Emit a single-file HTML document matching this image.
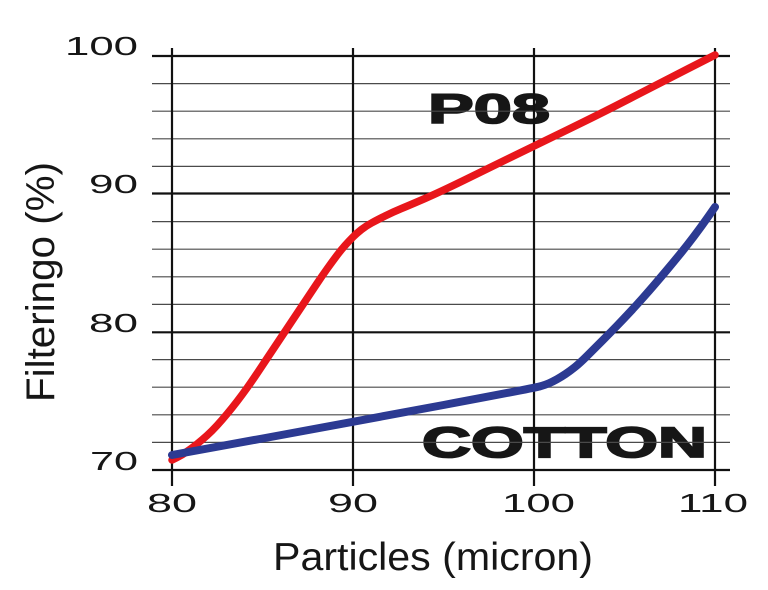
<!DOCTYPE html>
<html>
<head>
<meta charset="utf-8">
<style>
  html, body { margin:0; padding:0; background:#ffffff; }
  svg { display:block; }
  text { font-family: "Liberation Sans", "DejaVu Sans", sans-serif; fill:#161616; }
</style>
</head>
<body>
<svg width="768" height="590" viewBox="0 0 768 590" xmlns="http://www.w3.org/2000/svg">
  <rect width="768" height="590" fill="#ffffff"/>

  <!-- Series labels (under grid) -->
  <text x="428" y="123" font-size="42" font-weight="bold" textLength="122" lengthAdjust="spacingAndGlyphs" stroke="#161616" stroke-width="1.6">P08</text>
  <text x="422" y="457" font-size="43" font-weight="bold" textLength="285" lengthAdjust="spacingAndGlyphs" stroke="#161616" stroke-width="1.8">COTTON</text>

  <!-- Minor horizontal grid -->
  <g stroke="#4a4a4a" stroke-width="1.2">
    <line x1="152" y1="83.6" x2="730" y2="83.6"/>
    <line x1="152" y1="111.2" x2="730" y2="111.2"/>
    <line x1="152" y1="138.8" x2="730" y2="138.8"/>
    <line x1="152" y1="166.4" x2="730" y2="166.4"/>
    <line x1="152" y1="221.6" x2="730" y2="221.6"/>
    <line x1="152" y1="249.2" x2="730" y2="249.2"/>
    <line x1="152" y1="276.8" x2="730" y2="276.8"/>
    <line x1="152" y1="304.4" x2="730" y2="304.4"/>
    <line x1="152" y1="359.6" x2="730" y2="359.6"/>
    <line x1="152" y1="387.2" x2="730" y2="387.2"/>
    <line x1="152" y1="414.8" x2="730" y2="414.8"/>
    <line x1="152" y1="442.4" x2="730" y2="442.4"/>
  </g>
  <!-- Major horizontal grid -->
  <g stroke="#111" stroke-width="2.2">
    <line x1="152" y1="56" x2="730" y2="56"/>
    <line x1="152" y1="193.5" x2="730" y2="193.5"/>
    <line x1="152" y1="332.3" x2="730" y2="332.3"/>
    <line x1="152" y1="470" x2="730" y2="470"/>
  </g>
  <!-- Vertical grid -->
  <g stroke="#111" stroke-width="2.2">
    <line x1="172" y1="48" x2="172" y2="486"/>
    <line x1="353" y1="48" x2="353" y2="486"/>
    <line x1="534" y1="48" x2="534" y2="486"/>
    <line x1="715" y1="48" x2="715" y2="486"/>
  </g>

  <!-- Red P08 curve -->
  <path fill="none" stroke="#e8161b" stroke-width="7.5" stroke-linecap="round" stroke-linejoin="round"
    d="M172,460 L177,457.5 Q182,455 187,451.5 Q192,448 197,444 Q202,440 207,435.5 Q212,431 217,425.5 Q222,420 227,414 Q232,408 237,401.5 Q242,395 247,388 Q252,381 257,373.5 Q262,366 267,358.5 Q272,351 277,343.5 Q282,336 287,328.5 Q292,321 297,313.5 Q302,306 307,298.5 Q312,291 317,283.5 Q322,276 327,269 Q332,262 336.5,256 Q341,250 345,245.5 Q349,241 353,237 Q357,233 361.5,229.5 Q366,226 371.5,223 Q377,220 385,216 Q393,212 401.5,208.5 Q410,205 425,198.5 Q440,192 463.5,180.5 Q487,169 510.5,157.5 Q534,146 567,130 Q600,114 630,98.5 Q660,83 687.5,69 L715,55"/>

  <!-- Blue COTTON curve -->
  <path fill="none" stroke="#2c3a92" stroke-width="8" stroke-linecap="round" stroke-linejoin="round"
    d="M172,455 L262.5,438.5 Q353,422 443.5,405 Q534,388 539.5,386.5 Q545,385 549,383.25 Q553,381.5 557,379.25 Q561,377 565.5,374 Q570,371 575,367 Q580,363 587.5,355.5 Q595,348 602.5,340.5 Q610,333 617,325.75 Q624,318.5 630.5,311.5 Q637,304.5 643,297.75 Q649,291 655,284 Q661,277 667.5,269.25 Q674,261.5 680.5,253.5 Q687,245.5 694,236.25 Q701,227 708,217 L715,207"/>

  <!-- Y tick labels -->
  <g font-size="26">
    <text x="65" y="55" textLength="73" lengthAdjust="spacingAndGlyphs">100</text>
    <text x="89" y="193" textLength="49" lengthAdjust="spacingAndGlyphs">90</text>
    <text x="89" y="332" textLength="49" lengthAdjust="spacingAndGlyphs">80</text>
    <text x="90" y="470" textLength="48" lengthAdjust="spacingAndGlyphs">70</text>
  </g>
  <!-- X tick labels -->
  <g font-size="26">
    <text x="147" y="512" textLength="50" lengthAdjust="spacingAndGlyphs">80</text>
    <text x="328" y="512" textLength="50" lengthAdjust="spacingAndGlyphs">90</text>
    <text x="502" y="512" textLength="73" lengthAdjust="spacingAndGlyphs">100</text>
    <text x="678" y="512" textLength="70" lengthAdjust="spacingAndGlyphs">110</text>
  </g>

  <!-- Axis titles -->
  <text x="273" y="570" font-size="39" textLength="320" lengthAdjust="spacingAndGlyphs">Particles (micron)</text>
  <text transform="translate(54,402) rotate(-90)" x="0" y="0" font-size="40" textLength="240" lengthAdjust="spacingAndGlyphs">Filteringo (%)</text>
</svg>
</body>
</html>
